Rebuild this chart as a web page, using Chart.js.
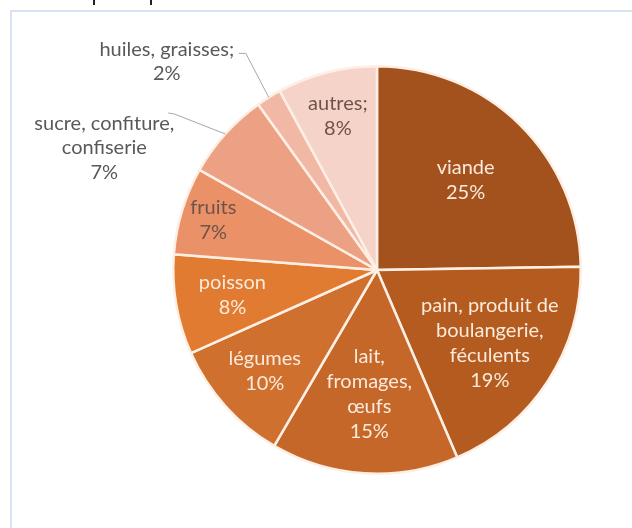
<!DOCTYPE html>
<html lang="fr">
<head>
<meta charset="utf-8">
<title>Répartition</title>
<script src="https://cdn.jsdelivr.net/npm/chart.js@4.4.0/dist/chart.umd.min.js"></script>
<style>
    html, body { margin: 0; padding: 0; background: #fff; }
    #wrap { position: relative; width: 632px; height: 528px; overflow: hidden; }
    #frame {
        position: absolute; left: 10px; top: 10px; right: -10px; bottom: -10px;
        border-left: 2px solid #d9e2f1; border-top: 2px solid #d9e2f1;
    }
    .tick { position: absolute; top: 0; width: 2px; height: 5px; background: #222; }
    canvas { position: absolute; left: 0; top: 0; }
</style>
</head>
<body>
<div id="wrap">
    <div id="frame"></div>
    <span class="tick" style="left:93px"></span>
    <span class="tick" style="left:150px"></span>
    <canvas id="pieChart" width="632" height="528"></canvas>
</div>
<script>
/* ----- data ----- */
const categories = [
    'viande',
    'pain, produit de\nboulangerie,\nféculents',
    'lait,\nfromages,\nœufs',
    'légumes',
    'poisson',
    'fruits',
    'sucre, confiture,\nconfiserie',
    'huiles, graisses;',
    'autres;'
];
const values = [25, 19, 15, 10, 8, 7, 7, 2, 8];
const sliceColors = [
    '#a3521d', '#b45b20', '#c6672a', '#d0702e', '#e27b32',
    '#ea9168', '#eda184', '#f2b8a6', '#f6d3c8'
];

/* ----- label drawing ----- */
const FONT = '20px Lato';
const LIGHT = '#fbeadc';
const DARK = '#6e534a';
const GREY = '#595959';

// radial position (share of radius) of labels drawn inside slices
const insideFactor = [0.62, 0.66, 0.61, 0.74, 0.72, 0.84, null, null, 0.78];
const insideColor = [LIGHT, LIGHT, LIGHT, LIGHT, LIGHT, DARK, null, null, DARK];
// labels drawn outside, offsets from the slice edge point
const outside = {
    6: { text: [-121, 14], elbow: [-51, -20], stub: [-57, -21] },
    7: { text: [-102, -36], elbow: [-23, -44], stub: [-30, -44] }
};

const sliceLabels = {
    id: 'sliceLabels',
    afterDatasetsDraw(chart) {
        const ctx = chart.ctx;
        const meta = chart.getDatasetMeta(0);
        ctx.save();
        ctx.font = FONT;
        ctx.textAlign = 'center';
        ctx.textBaseline = 'middle';
        meta.data.forEach((arc, i) => {
            const p = arc.getProps(['x', 'y', 'startAngle', 'endAngle', 'outerRadius'], true);
            const mid = (p.startAngle + p.endAngle) / 2;
            const lines = categories[i].split('\n').concat(values[i] + '%');
            let cx, cy, lh, color;
            if (outside[i]) {
                const o = outside[i];
                const ex = p.x + Math.cos(mid) * p.outerRadius;
                const ey = p.y + Math.sin(mid) * p.outerRadius;
                ctx.strokeStyle = '#a6a6a6';
                ctx.lineWidth = 1;
                ctx.beginPath();
                ctx.moveTo(ex, ey);
                ctx.lineTo(ex + o.elbow[0], ey + o.elbow[1]);
                ctx.lineTo(ex + o.stub[0], ey + o.stub[1]);
                ctx.stroke();
                cx = ex + o.text[0];
                cy = ey + o.text[1];
                lh = 24.5;
                color = GREY;
            } else {
                const r = p.outerRadius * insideFactor[i];
                cx = p.x + Math.cos(mid) * r;
                cy = p.y + Math.sin(mid) * r;
                lh = 25;
                color = insideColor[i];
            }
            ctx.fillStyle = color;
            const top = cy - (lines.length - 1) * lh / 2;
            lines.forEach((t, k) => ctx.fillText(t, cx, top + k * lh));
        });
        ctx.restore();
    }
};

/* ----- chart ----- */
new Chart(document.getElementById('pieChart'), {
    type: 'pie',
    data: {
        labels: categories,
        datasets: [{
            data: values,
            backgroundColor: sliceColors,
            borderColor: '#fdefe4',
            borderWidth: 2.5
        }]
    },
    options: {
        responsive: false,
        animation: false,
        layout: { padding: { left: 172, right: 50, top: 65, bottom: 53 } },
        plugins: {
            legend: { display: false },
            tooltip: { enabled: false }
        }
    },
    plugins: [sliceLabels]
});
</script>
</body>
</html>
